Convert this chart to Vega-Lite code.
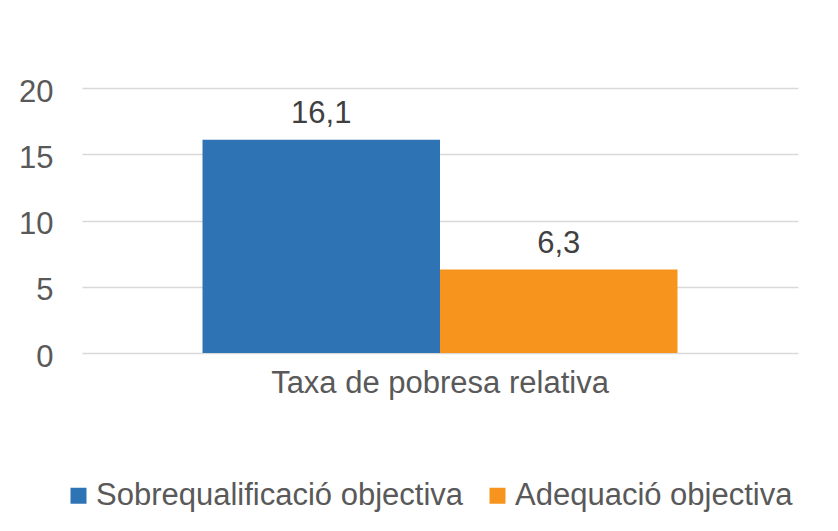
{
  "$schema": "https://vega.github.io/schema/vega-lite/v6.json",
  "width": 716,
  "height": 265,
  "autosize": {"type": "none"},
  "padding": {"left": 82, "top": 88, "right": 40, "bottom": 178},
  "background": "white",
  "config": {
    "view": {"stroke": null},
    "font": "Liberation Sans",
    "locale": {"number": {"decimal": ",", "thousands": ".", "grouping": [3], "currency": ["", " €"]}}
  },
  "data": {
    "values": [
      {"cat": "Taxa de pobresa relativa", "serie": "Sobrequalificació objectiva", "valor": 16.1},
      {"cat": "Taxa de pobresa relativa", "serie": "Adequació objectiva", "valor": 6.3}
    ]
  },
  "encoding": {
    "x": {
      "field": "cat", "type": "nominal",
      "scale": {"paddingInner": 0, "paddingOuter": 0.2537},
      "axis": {"title": null, "labelAngle": 0, "domain": false, "ticks": false, "labelFontSize": 31, "labelColor": "#595959", "labelPadding": 15, "labelBaseline": "top", "labelLimit": 800}
    },
    "xOffset": {
      "field": "serie", "type": "nominal",
      "scale": {"domain": ["Sobrequalificació objectiva", "Adequació objectiva"], "paddingInner": 0, "paddingOuter": 0}
    },
    "y": {
      "field": "valor", "type": "quantitative",
      "scale": {"domain": [0, 20], "nice": false},
      "axis": {"title": null, "values": [0, 5, 10, 15, 20], "domain": false, "ticks": false, "gridColor": "#d9d9d9", "gridWidth": 1.5, "labelFontSize": 31, "labelColor": "#595959", "labelPadding": 29, "labelOffset": 4}
    }
  },
  "layer": [
    {
      "mark": {"type": "bar"},
      "encoding": {
        "color": {
          "field": "serie", "type": "nominal",
          "scale": {"domain": ["Sobrequalificació objectiva", "Adequació objectiva"], "range": ["#2E74B5", "#F7941E"]},
          "legend": {"title": null, "orient": "none", "legendX": -19, "legendY": 392, "direction": "horizontal", "symbolType": "square", "symbolSize": 256, "symbolStrokeWidth": 0, "labelFontSize": 31, "labelColor": "#595959", "labelOffset": 2, "columnPadding": 18, "labelLimit": 600}
        }
      }
    },
    {
      "mark": {"type": "text", "baseline": "alphabetic", "dy": -17, "fontSize": 31, "color": "#404040"},
      "encoding": {"text": {"field": "valor", "type": "quantitative", "format": ".1f"}}
    }
  ]
}
